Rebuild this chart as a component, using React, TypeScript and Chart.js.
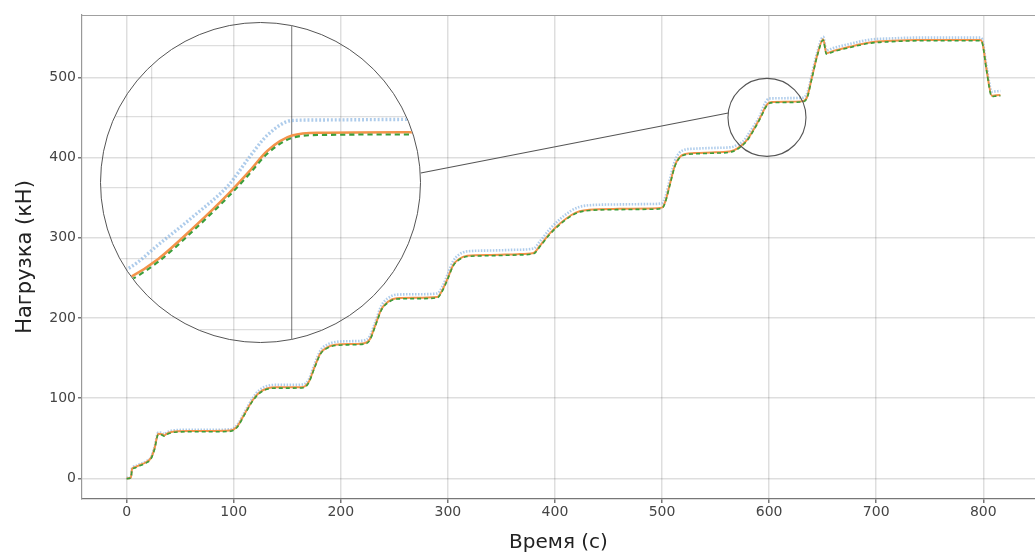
import React, { useEffect, useRef } from "react";
import { Chart, registerables } from "chart.js";
Chart.register(...registerables);

// ---- data (time in s, load in kN) ----
const time = [
  0, 4, 5, 8, 12, 18, 23, 26, 29.5, 33, 35, 38, 41, 45, 60, 80, 96, 100, 104, 110,
  118, 124, 131, 140, 155, 165, 170, 175, 181, 187, 195, 210, 222, 227, 232, 238, 244, 252, 270, 290,
  295, 300, 305, 310, 318, 340, 365, 380, 386, 395, 405, 415, 423, 432, 460, 490, 500, 503, 507, 512,
  516, 522, 530, 550, 565, 570, 577, 581, 586, 591, 594, 596.5, 600, 604, 617, 630, 635, 640, 645, 650.5,
  653.5, 660, 675, 694, 715, 738, 760, 785, 797, 799, 803, 808, 812, 816,
];
const orangeLoad = [
  0, 1, 11.5, 14, 16.5, 20, 26, 37, 55.5, 55, 53.5, 56, 57.5, 58.5, 59, 59, 59.5, 61, 66, 80,
  98, 107, 112, 113.5, 113.5, 114, 120, 137, 156, 163, 166.5, 167.5, 168.5, 173, 190, 211, 220, 224.5, 225, 226,
  235, 250, 266, 273, 277.5, 278.5, 279.5, 281, 290, 305, 318, 328, 333, 335, 336, 336.5, 337.5, 345, 365, 390,
  400, 404.5, 405.5, 406.5, 408, 411, 418.5, 425, 436, 448, 456, 463, 468.3, 469.3, 469.5, 470, 474, 500, 528, 547.5,
  530, 533, 538, 543.5, 545.5, 546.5, 546.5, 546.5, 546.5, 544, 510, 477, 477.5, 478,
];
const blueLoad = [
  0.5, 1.5, 12.5, 15, 17.5, 21, 27, 38.5, 57, 56.5, 55, 57.5, 59, 60, 60.5, 60.5, 61, 62.5, 68, 82,
  100.5, 110, 115, 116.5, 116.5, 117, 123, 140.5, 159.5, 166.5, 170, 171, 172, 177, 194, 215.5, 224.5, 229, 229.5, 230.5,
  239.5, 255, 271, 278.5, 283, 284, 285, 286.5, 295.5, 310.5, 323.5, 333.5, 338.5, 340.5, 341.5, 342, 343, 350.5, 371, 396,
  405.5, 410, 411, 412, 413, 415.5, 422, 430, 440, 451, 461, 468.5, 473.6, 473.8, 474, 474.5, 478.5, 504, 531.5, 550.5,
  533.5, 536.5, 541.5, 547, 548.5, 549.5, 549.5, 549.5, 549.5, 547, 514, 482, 482.5, 483,
];
const greenLoad = [
  -0.5, 0.5, 10.5, 13, 15.5, 19, 25, 36, 54.5, 54, 52.5, 55, 56.5, 57.5, 58, 58, 58.5, 60, 65, 79,
  97, 106, 111, 112.5, 112.5, 113, 119, 136, 155, 162, 165.5, 166.5, 167.5, 172, 189, 210, 219, 223.5, 224, 225,
  234, 249, 265, 272, 276.5, 277.5, 278.5, 280, 289, 304, 317, 327, 332, 334, 335, 335.5, 336.5, 344, 364, 389,
  399, 403.5, 404.5, 405.5, 407, 410, 417.5, 424, 435, 447, 455, 462, 467.5, 468.5, 468.7, 469.2, 473, 499, 527, 546.5,
  529, 532, 537, 542.5, 544.5, 545.5, 545.5, 545.5, 545.5, 543, 509, 476, 476.5, 477,
];
const xTicks = [0, 100, 200, 300, 400, 500, 600, 700, 800];
const yTicks = [0, 100, 200, 300, 400, 500];
const insetXTicks = [580, 600];
const insetYTicks = [400, 425, 450, 475, 500];
const X_LABEL = "Время (с)";
const Y_LABEL = "Нагрузка (кН)";

// ---- layout ----
const W = 1035;
const H = 556;
const INSET_LEFT = 101;
const INSET_TOP = 22.5;
const INSET_SIZE = 319;
const LENS_X = 598; // data coords of the magnified spot
const LENS_Y = 450;
const LENS_R = 39;
const FONT = "DejaVu Sans";
const GRID = "rgba(0,0,0,0.13)";

function makeDatasets(k: number) {
  const pts = (arr: number[]) => time.map((t, i) => ({ x: t, y: arr[i] }));
  return [
    {
      label: "green",
      data: pts(greenLoad),
      borderColor: "#3b9e3b",
      borderWidth: 1.6 * k,
      borderDash: [4 * k, 3 * k],
      pointRadius: 0,
      cubicInterpolationMode: "monotone" as const,
    },
    {
      label: "orange",
      data: pts(orangeLoad),
      borderColor: "#f3934a",
      borderWidth: 2 * k,
      pointRadius: 0,
      cubicInterpolationMode: "monotone" as const,
    },
    {
      label: "blue",
      data: pts(blueLoad),
      borderColor: "rgba(120,170,222,0.6)",
      borderWidth: 2.6 * k,
      borderDash: [1.5 * k, 1.5 * k],
      pointRadius: 0,
      cubicInterpolationMode: "monotone" as const,
    },
  ];
}

const lensPlugin = {
  id: "lens",
  afterDraw(chart: any) {
    const { ctx, chartArea, scales } = chart;
    ctx.save();
    // top frame line
    ctx.strokeStyle = "#a0a0a0";
    ctx.lineWidth = 1.2;
    ctx.beginPath();
    ctx.moveTo(chartArea.left, chartArea.top + 0.5);
    ctx.lineTo(chartArea.right, chartArea.top + 0.5);
    ctx.stroke();
    // small lens circle
    const cx = scales.x.getPixelForValue(LENS_X);
    const cy = scales.y.getPixelForValue(LENS_Y);
    ctx.strokeStyle = "#555";
    ctx.lineWidth = 1.1;
    ctx.beginPath();
    ctx.arc(cx, cy, LENS_R, 0, Math.PI * 2);
    ctx.stroke();
    // connector
    const R = INSET_SIZE / 2;
    const icx = INSET_LEFT + R;
    const icy = INSET_TOP + R;
    const a1 = -0.056;
    const a2 = Math.PI + 0.112;
    ctx.beginPath();
    ctx.moveTo(icx + (R + 1) * Math.cos(a1), icy + (R + 1) * Math.sin(a1));
    ctx.lineTo(cx + LENS_R * Math.cos(a2), cy + LENS_R * Math.sin(a2));
    ctx.stroke();
    ctx.restore();
  },
};

export default function App() {
  const mainRef = useRef<HTMLCanvasElement>(null);
  const insetRef = useRef<HTMLCanvasElement>(null);

  useEffect(() => {
    const main = new Chart(mainRef.current!, {
      type: "line",
      data: { datasets: makeDatasets(1) as any },
      options: {
        responsive: false,
        animation: false,
        layout: { padding: { top: 15, right: 0, left: 0, bottom: 0 } },
        plugins: { legend: { display: false }, tooltip: { enabled: false } },
        scales: {
          x: {
            type: "linear",
            min: -41.7,
            max: 848.3,
            afterBuildTicks: (s: any) => {
              s.ticks = xTicks.map((v) => ({ value: v }));
            },
            afterFit: (s: any) => {
              s.height = 57;
            },
            grid: { color: GRID, lineWidth: 1.5, tickLength: 4, tickColor: "#777" },
            border: { color: "#777", width: 1.2 },
            ticks: { color: "#444", font: { family: FONT, size: 14 }, padding: 1, maxRotation: 0 },
            title: {
              display: true,
              text: X_LABEL,
              color: "#222",
              font: { family: FONT, size: 20 },
              padding: { top: 0, bottom: 1 },
            },
          },
          y: {
            type: "linear",
            min: -25.8,
            max: 577.7,
            afterBuildTicks: (s: any) => {
              s.ticks = yTicks.map((v) => ({ value: v }));
            },
            afterFit: (s: any) => {
              s.width = 82;
            },
            grid: { color: GRID, lineWidth: 1.5, tickLength: 4, tickColor: "#777" },
            border: { color: "#999", width: 1.2 },
            ticks: { color: "#444", font: { family: FONT, size: 14 }, padding: 2 },
            title: {
              display: true,
              text: Y_LABEL,
              color: "#222",
              font: { family: FONT, size: 21 },
              padding: { top: 13, bottom: 0 },
            },
          },
        },
      },
      plugins: [lensPlugin],
    });

    const inset = new Chart(insetRef.current!, {
      type: "line",
      data: { datasets: makeDatasets(1.3) as any },
      options: {
        responsive: false,
        animation: false,
        layout: { padding: 0 },
        plugins: { legend: { display: false }, tooltip: { enabled: false } },
        scales: {
          x: {
            type: "linear",
            min: 572.8,
            max: 618.2,
            afterBuildTicks: (s: any) => {
              s.ticks = insetXTicks.map((v) => ({ value: v }));
            },
            afterFit: (s: any) => {
              s.height = 0;
            },
            ticks: { display: false },
            border: { display: false },
            grid: {
              drawTicks: false,
              lineWidth: 1.3,
              color: (c: any) => (c.tick && c.tick.value === 600 ? "rgba(0,0,0,0.42)" : GRID),
            },
          },
          y: {
            type: "linear",
            min: 395.7,
            max: 507.9,
            afterBuildTicks: (s: any) => {
              s.ticks = insetYTicks.map((v) => ({ value: v }));
            },
            afterFit: (s: any) => {
              s.width = 0;
            },
            ticks: { display: false },
            border: { display: false },
            grid: { drawTicks: false, lineWidth: 1.3, color: GRID },
          },
        },
      },
    });

    return () => {
      main.destroy();
      inset.destroy();
    };
  }, []);

  return (
    <div style={{ position: "absolute", left: 0, top: 0, width: W, height: H, background: "#fff", overflow: "hidden" }}>
      <canvas ref={mainRef} width={W} height={H} style={{ position: "absolute", left: 0, top: 0 }} />
      <div
        style={{
          position: "absolute",
          left: INSET_LEFT - 1,
          top: INSET_TOP - 1,
          width: INSET_SIZE,
          height: INSET_SIZE,
          border: "1px solid #555",
          borderRadius: "50%",
          overflow: "hidden",
        }}
      >
        <canvas ref={insetRef} width={INSET_SIZE} height={INSET_SIZE} style={{ display: "block" }} />
      </div>
    </div>
  );
}
